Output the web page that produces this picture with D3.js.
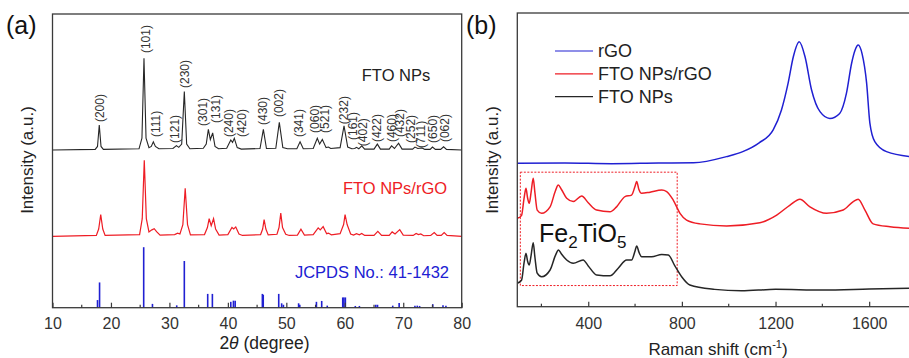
<!DOCTYPE html>
<html>
<head>
<meta charset="utf-8">
<script src="https://cdn.jsdelivr.net/npm/d3@7"></script>
<style>
  body { margin: 0; background: #fff; }
  svg { display: block; font-family: "Liberation Sans", Arial, sans-serif; }
</style>
</head>
<body>
<div id="chart"></div>
<script>
// ---- panel (a): XRD, [2theta, intensity above own baseline] ----
const xrdFto = [
  [10,0],[17.3,0.2],[17.7,1.2],[18.0,8.5],[18.3,1.2],[18.7,0.2],
  [24.8,0.4],[25.3,4],[25.65,31.2],[26.0,4],[26.5,0.8],
  [26.9,1.2],[27.25,2.8],[27.6,1.2],[28.2,0.4],
  [30.6,0.5],[31.2,1.5],[31.6,0.9],[32.1,2],[32.55,19.9],[32.95,2],[33.5,0.4],
  [35.8,0.6],[36.3,2],[36.66,7.0],[37.0,3.5],[37.4,5.8],[37.8,1.2],[38.4,0.4],
  [39.8,0.6],[40.5,3.4],[40.8,2.6],[41.1,4.0],[41.6,0.8],[42.3,0.3],
  [45.5,0.5],[46.07,7.0],[46.6,0.5],
  [48.2,0.6],[48.8,9.4],[49.4,0.8],[50.2,0.4],
  [51.8,0.4],[52.35,2.8],[52.9,0.4],
  [54.6,0.5],[55.3,4.0],[55.7,2.0],[56.16,3.6],[56.8,0.8],[57.2,1.0],[57.6,0.5],
  [59.2,0.8],[59.87,8.2],[60.5,1.0],[61.2,0.4],
  [61.7,0.5],[62.0,0.9],[62.4,0.4],[62.9,1.4],[63.4,0.3],
  [65.0,0.3],[65.57,2.0],[66.1,0.3],
  [67.6,0.3],[68.0,1.4],[68.5,0.5],[69.2,2.3],[69.8,0.3],
  [71.6,0.3],[72.0,1.0],[72.5,0.5],[73.2,0.7],[73.7,0.2],
  [74.6,0.2],[75.0,1.0],[75.5,0.2],
  [76.4,0.2],[76.9,1.1],[77.4,0.2],[80,0]
];
const xrdFtoRgo = [
  [10,0],[17.5,0.3],[17.9,2.5],[18.25,7.4],[18.6,2.5],[19.0,0.3],
  [24.9,0.6],[25.35,6],[25.7,25.9],[26.05,6],[26.5,1.5],[27.0,2.2],[27.4,2.6],[27.8,1.6],[28.4,0.4],
  [30.9,0.6],[31.4,1.1],[31.8,0.8],[32.3,4],[32.7,16.4],[33.1,4],[33.6,0.5],
  [36.0,0.6],[36.5,3],[36.8,6.0],[37.15,3.6],[37.55,6.0],[37.9,2.5],[38.5,0.4],
  [40.0,0.6],[40.7,3.0],[41.0,2.5],[41.35,3.2],[41.9,0.8],[42.5,0.3],
  [45.6,0.6],[45.95,2.5],[46.2,5.7],[46.5,2.5],[46.9,0.5],
  [48.4,0.7],[48.75,3],[49.05,7.9],[49.35,3],[49.9,0.7],[50.5,0.3],
  [51.9,0.4],[52.5,2.4],[53.1,0.4],
  [54.6,0.6],[55.45,2.9],[55.8,2.2],[56.3,3.3],[56.9,0.9],[57.2,1.1],[57.7,0.5],
  [59.2,0.9],[59.8,4],[60.05,7.4],[60.4,4],[61.0,0.8],[61.5,0.4],
  [62.0,0.9],[62.5,0.5],[62.9,1.0],[63.4,0.3],
  [65.0,0.3],[65.65,1.7],[66.3,0.3],
  [67.6,0.3],[68.1,1.5],[68.6,0.8],[69.4,2.3],[70.0,0.4],
  [71.7,0.3],[72.2,1.0],[72.6,0.6],[73.0,0.8],[73.5,0.2],
  [74.7,0.3],[75.3,1.3],[75.8,0.3],
  [76.5,0.3],[77.0,1.3],[77.5,0.3],[80,0]
];
// JCPDS 41-1432 reference sticks
const jcpdsSticks = [
  [17.7,2.6],[18.05,8.6],[25.6,20.6],[27.1,1.3],[31.25,0.8],[32.55,15.9],
  [36.55,4.7],[37.35,4.7],[40.5,2.0],[40.95,2.4],[41.25,2.4],[45.9,4.7],[46.05,4.4],
  [48.7,4.7],[49.2,1.5],[49.5,1.0],[52.1,1.5],[52.3,1.0],[55.15,2.0],[56.05,2.3],
  [57.0,0.7],[59.65,3.5],[59.85,3.5],[60.1,3.5],[61.8,0.6],[62.5,0.6],[65.3,1.0],
  [65.6,1.0],[68.2,0.7],[69.3,1.6],[72.0,0.7],[72.4,0.7],[72.8,0.6],[75.05,1.2],
  [76.8,0.8],[77.3,0.7]
];
// Miller indices above the FTO NPs pattern
const hklNames = ['(200)','(101)','(111)','(121)','(230)','(301)','(131)','(240)','(420)',
  '(430)','(002)','(341)','(060)','(521)','(232)','(161)','(402)','(422)','(460)',
  '(432)','(252)','(711)','(650)','(062)'];
const hklAngle = [18.1,26.0,27.7,31.0,32.7,35.75,38.0,40.2,42.4,46.0,48.75,52.2,54.9,
  56.6,59.9,61.4,63.05,65.5,68.0,69.45,71.3,73.0,75.1,77.1];
const hklLevel = [9.5,33.0,4.4,2.4,21.1,8.2,9.2,4.4,4.4,8.5,11.2,4.4,5.8,5.8,8.8,3.4,
  1.3,2.7,2.7,4.4,2.4,0.7,2.4,2.7];
const xrdOffset = { fto: 53.7, ftoRgo: 24.3, jcpds: 0 };
const xrdTicks = [10, 20, 30, 40, 50, 60, 70, 80];
const xrdMinor = [15, 25, 35, 45, 55, 65, 75];

// ---- panel (b): Raman, [shift cm-1, intensity] ----
const ramanRgo = [
  [97,48.8],[300,48.9],[500,48.7],[700,48.9],[850,49.0],[990,51.1],[1060,52.8],
  [1130,55.8],[1190,60.2],[1225,66.9],[1254,76.2],[1276,85.1],[1301,90.2],[1326,85.1],
  [1354,73.8],[1390,66.4],[1432,64.1],[1474,65.8],[1503,72.7],[1525,82.9],[1540,87.4],
  [1553,89.1],[1570,86],[1589,76.2],[1603,62.5],[1624,56.2],[1674,52.8],[1800,50.9]
];
const ramanFtoRgo = [
  [97,30.1],[115,31],[126,37],[134,40.3],[141,37],[148,35.2],[156,39],[165,43.7],
  [172,39],[182,32.9],[201,31.8],[237,34.0],[260,39.5],[272,41.4],[285,40],[308,36.9],
  [336,35.8],[372,37.7],[400,35.4],[436,32.9],[493,32.3],[521,34.0],[557,37.5],
  [585,38.0],[600,41],[607,42.6],[616,40],[628,38.6],[664,39.0],[714,39.7],[735,39.2],
  [763,36.3],[792,31.8],[820,29.5],[877,28.2],[991,27.5],[1133,28.6],[1205,31.2],
  [1262,34.6],[1304,36.6],[1347,34.0],[1418,31.8],[1489,32.9],[1532,35.8],[1553,36.6],
  [1582,32.9],[1617,28.2],[1689,27.2],[1800,26.6]
];
const ramanFto = [
  [97,8.0],[115,9],[126,15],[134,18.2],[141,15.5],[148,14.2],[156,17.5],[165,21.8],
  [172,17],[182,11.4],[201,10.2],[237,12.5],[260,17.5],[273,19.3],[285,18],[308,15.9],
  [336,14.8],[378,15.9],[400,13.9],[436,10.8],[493,10.5],[528,13.1],[564,15.9],
  [585,15.9],[600,19],[607,20.7],[617,18.5],[628,17.0],[671,17.0],[714,17.8],
  [742,17.6],[770,13.9],[799,10.2],[834,7.4],[940,5.9],[1054,5.4],[1200,5.9],
  [1400,5.7],[1600,6.0],[1800,6.3]
];
const ramanTicks = [400, 800, 1200, 1600];
const ramanMinor = [200, 600, 1000, 1400];
const legendNames = ['rGO', 'FTO NPs/rGO', 'FTO NPs'];
const fe2tio5Box = { x0: 110, x1: 780, y0: 7.2, y1: 45.8 };

const colors = { fto: '#262626', red: '#ee1d25', blue: '#2020d2', frame: '#3a3a3a' };

const svg = d3.select('#chart').append('svg')
  .attr('width', 909)
  .attr('height', 358);

// scales
const xA = d3.scaleLinear().domain([10, 80]).range([52.5, 461.7]);
const yA = d3.scaleLinear().domain([0, 100]).range([307.7, 14]);
const xB = d3.scaleLinear().domain([97, 1800]).range([517.3, 916]);
const yB = d3.scaleLinear().domain([0, 100]).range([306.7, 13]);

function drawAxis(x, y, major, minor, pad) {
  const g = svg.append('g').attr('transform', `translate(0,${y.range()[0]})`);
  g.call(d3.axisBottom(x).tickValues(major).tickFormat(d3.format('d'))
      .tickSize(-5).tickSizeOuter(0).tickPadding(pad))
    .call(s => s.select('.domain').remove());
  g.selectAll('.tick line').attr('stroke', colors.frame).attr('stroke-width', 1.2);
  g.selectAll('.tick text')
    .attr('fill', '#333')
    .style('font-size', '16px')
    .style('font-family', '"Liberation Sans", Arial, sans-serif');
  g.selectAll('.minor').data(minor).enter().append('line')
    .attr('x1', d => x(d)).attr('x2', d => x(d))
    .attr('y1', 0).attr('y2', -3)
    .attr('stroke', colors.frame).attr('stroke-width', 1.2);
}

function frame(x, y) {
  svg.append('rect')
    .attr('x', x.range()[0]).attr('y', y.range()[1])
    .attr('width', x.range()[1] - x.range()[0])
    .attr('height', y.range()[0] - y.range()[1])
    .attr('fill', 'none')
    .attr('stroke', colors.frame)
    .attr('stroke-width', 1.3);
}

// ---------- panel (a) ----------
const lineA = off => d3.line().x(d => xA(d[0])).y(d => yA(d[1] + off));

svg.append('g').selectAll('line').data(jcpdsSticks).enter().append('line')
  .attr('x1', d => xA(d[0])).attr('x2', d => xA(d[0]))
  .attr('y1', yA(xrdOffset.jcpds)).attr('y2', d => yA(d[1] + xrdOffset.jcpds))
  .attr('stroke', colors.blue).attr('stroke-width', 1.6);

svg.append('path').datum(xrdFtoRgo)
  .attr('d', lineA(xrdOffset.ftoRgo))
  .attr('fill', 'none').attr('stroke', colors.red).attr('stroke-width', 1.2);

svg.append('path').datum(xrdFto)
  .attr('d', lineA(xrdOffset.fto))
  .attr('fill', 'none').attr('stroke', colors.fto).attr('stroke-width', 1.1);

svg.append('g').selectAll('text').data(hklNames).enter().append('text')
  .attr('transform', (d, i) => `translate(${xA(hklAngle[i])},${yA(hklLevel[i] + xrdOffset.fto)}) rotate(-90)`)
  .attr('dy', '0.35em')
  .attr('fill', '#333')
  .style('font-size', '12px')
  .text(d => d);

frame(xA, yA);
drawAxis(xA, yA, xrdTicks, xrdMinor, 9.5);

svg.append('text').attr('x', 396).attr('y', 81).attr('text-anchor', 'middle')
  .attr('fill', '#222').style('font-size', '16.5px').text('FTO NPs');
svg.append('text').attr('x', 395).attr('y', 194).attr('text-anchor', 'middle')
  .attr('fill', colors.red).style('font-size', '16.5px').text('FTO NPs/rGO');
svg.append('text').attr('x', 372).attr('y', 277.5).attr('text-anchor', 'middle')
  .attr('fill', colors.blue).style('font-size', '16.5px').text('JCPDS No.: 41-1432');

const xTitleA = svg.append('text').attr('x', 264.5).attr('y', 349)
  .attr('text-anchor', 'middle').attr('fill', '#222').style('font-size', '17.5px');
xTitleA.append('tspan').text('2');
xTitleA.append('tspan').style('font-style', 'italic').text('θ');
xTitleA.append('tspan').text(' (degree)');

svg.append('text')
  .attr('transform', 'translate(27,160) rotate(-90)')
  .attr('text-anchor', 'middle').attr('dy', '0.35em')
  .attr('fill', '#222').style('font-size', '17px')
  .text('Intensity (a.u.)');

svg.append('text').attr('x', 6).attr('y', 34).attr('fill', '#111')
  .style('font-size', '25px').text('(a)');

// ---------- panel (b) ----------
svg.append('clipPath').attr('id', 'clipB').append('rect')
  .attr('x', xB.range()[0]).attr('y', yB.range()[1])
  .attr('width', xB.range()[1] - xB.range()[0])
  .attr('height', yB.range()[0] - yB.range()[1]);

const lineB = d3.line().x(d => xB(d[0])).y(d => yB(d[1])).curve(d3.curveMonotoneX);
const gB = svg.append('g').attr('clip-path', 'url(#clipB)');

gB.append('rect')
  .attr('x', xB(fe2tio5Box.x0)).attr('y', yB(fe2tio5Box.y1))
  .attr('width', xB(fe2tio5Box.x1) - xB(fe2tio5Box.x0))
  .attr('height', yB(fe2tio5Box.y0) - yB(fe2tio5Box.y1))
  .attr('fill', 'none').attr('stroke', colors.red)
  .attr('stroke-width', 1).attr('stroke-dasharray', '2,1.5');

[[ramanRgo, colors.blue], [ramanFtoRgo, colors.red], [ramanFto, colors.fto]].forEach(s => {
  gB.append('path').datum(s[0])
    .attr('d', lineB)
    .attr('fill', 'none').attr('stroke', s[1]).attr('stroke-width', 1.5);
});

frame(xB, yB);
drawAxis(xB, yB, ramanTicks, ramanMinor, 11);

const fe = svg.append('text').attr('x', 539).attr('y', 242).attr('fill', '#111')
  .style('font-size', '25px');
fe.append('tspan').text('Fe');
fe.append('tspan').attr('dy', 6).style('font-size', '17px').text('2');
fe.append('tspan').attr('dy', -6).text('TiO');
fe.append('tspan').attr('dy', 6).style('font-size', '17px').text('5');

const legend = svg.append('g');
legendNames.forEach((name, i) => {
  const yy = 51 + i * 22.8;
  const c = [colors.blue, colors.red, colors.fto][i];
  legend.append('line').attr('x1', 555).attr('x2', 593).attr('y1', yy).attr('y2', yy)
    .attr('stroke', c).attr('stroke-width', 1.2);
  legend.append('text').attr('x', 598).attr('y', yy).attr('dy', '0.35em')
    .attr('fill', '#222').style('font-size', '18px').text(name);
});

const xTitleB = svg.append('text').attr('x', 718).attr('y', 355)
  .attr('text-anchor', 'middle').attr('fill', '#222').style('font-size', '17px');
xTitleB.append('tspan').text('Raman shift (cm');
xTitleB.append('tspan').attr('dy', -7).style('font-size', '11px').text('-1');
xTitleB.append('tspan').attr('dy', 7).text(')');

svg.append('text')
  .attr('transform', 'translate(492,160) rotate(-90)')
  .attr('text-anchor', 'middle').attr('dy', '0.35em')
  .attr('fill', '#222').style('font-size', '17px')
  .text('Intensity (a.u.)');

svg.append('text').attr('x', 466).attr('y', 34).attr('fill', '#111')
  .style('font-size', '25px').text('(b)');
</script>
</body>
</html>
